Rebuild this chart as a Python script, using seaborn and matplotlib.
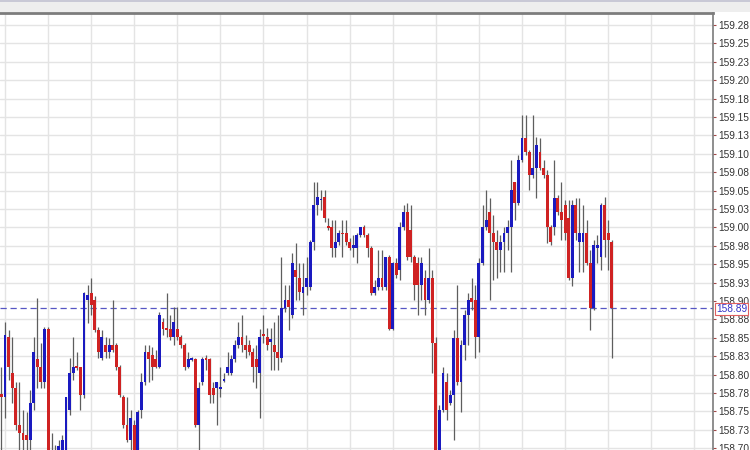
"""
Intraday candlestick chart (right-hand price scale) drawn on a seaborn theme.
Saves out.png at 750x450.
"""

import numpy as np
import pandas as pd
import seaborn as sns
from matplotlib import pyplot as plt
from matplotlib.patches import Rectangle

# Candle values, oldest first (the first one is cut by the left edge)
opens = [
    158.774, 158.770, 158.851, 158.802, 158.782, 158.731, 158.721, 158.718, 158.711, 158.761,
    158.821, 158.810, 158.790, 158.862, 158.670, 158.677, 158.695, 158.698, 158.698, 158.752,
    158.802, 158.812, 158.810, 158.772, 158.901, 158.911, 158.901, 158.861, 158.823, 158.840,
    158.831, 158.840, 158.840, 158.810, 158.770, 158.731, 158.711, 158.731, 158.684, 158.752,
    158.790, 158.831, 158.827, 158.821, 158.810, 158.871, 158.863, 158.862, 158.851, 158.862,
    158.851, 158.840, 158.810, 158.820, 158.821, 158.731, 158.790, 158.823, 158.821, 158.782,
    158.782, 158.780, 158.792, 158.802, 158.802, 158.821, 158.840, 158.851, 158.840, 158.840,
    158.831, 158.821, 158.802, 158.855, 158.851, 158.844, 158.840, 158.831, 158.823, 158.891,
    158.901, 158.881, 158.942, 158.931, 158.911, 158.919, 158.919, 158.980, 159.030, 159.037,
    159.041, 159.002, 159.001, 158.972, 158.980, 158.993, 158.992, 158.980, 158.972, 158.972,
    158.990, 159.001, 158.990, 158.972, 158.911, 158.919, 158.931, 158.919, 158.960, 158.862,
    158.952, 158.942, 159.001, 159.021, 158.996, 158.960, 158.952, 158.922, 158.931, 158.901,
    158.931, 158.843, 158.698, 158.752, 158.790, 158.761, 158.772, 158.850, 158.790, 158.840,
    158.881, 158.904, 158.901, 158.851, 158.952, 159.001, 159.021, 158.992, 158.980, 158.969,
    158.980, 158.992, 159.001, 159.062, 159.033, 159.092, 159.121, 159.102, 159.071, 159.081,
    159.102, 159.081, 159.071, 159.001, 159.001, 159.040, 159.021, 159.030, 159.013, 158.931,
    159.030, 158.980, 158.980, 158.992, 158.952, 158.891, 158.972, 158.960, 159.030, 158.992,
    158.980,
]
highs = [
    158.810, 158.871, 158.861, 158.851, 158.790, 158.790, 158.752, 158.749, 158.779, 158.851,
    158.904, 158.843, 158.865, 158.865, 158.721, 158.704, 158.711, 158.718, 158.770, 158.823,
    158.851, 158.831, 158.810, 158.912, 158.922, 158.931, 158.907, 158.865, 158.861, 158.851,
    158.850, 158.901, 158.843, 158.813, 158.772, 158.770, 158.752, 158.738, 158.752, 158.802,
    158.840, 158.840, 158.838, 158.833, 158.885, 158.877, 158.911, 158.881, 158.892, 158.892,
    158.854, 158.843, 158.831, 158.824, 158.823, 158.790, 158.824, 158.827, 158.823, 158.790,
    158.790, 158.810, 158.802, 158.831, 158.827, 158.847, 158.871, 158.881, 158.854, 158.847,
    158.836, 158.840, 158.862, 158.881, 158.863, 158.863, 158.871, 158.881, 158.960, 158.922,
    158.922, 158.965, 158.979, 158.952, 158.952, 158.960, 158.983, 159.062, 159.062, 159.051,
    159.051, 159.013, 159.010, 159.010, 158.996, 159.010, 159.010, 158.986, 158.990, 158.992,
    159.001, 159.003, 158.992, 158.975, 158.929, 158.969, 158.969, 158.960, 158.963, 158.953,
    158.958, 159.007, 159.030, 159.033, 159.030, 158.963, 158.960, 158.960, 158.942, 158.972,
    158.942, 158.851, 158.759, 158.810, 158.802, 158.779, 158.861, 158.922, 158.847, 158.888,
    158.911, 158.931, 158.922, 158.958, 159.030, 159.051, 159.040, 159.017, 158.996, 158.990,
    159.001, 159.010, 159.092, 159.062, 159.098, 159.153, 159.153, 159.105, 159.153, 159.123,
    159.121, 159.092, 159.078, 159.003, 159.092, 159.044, 159.062, 159.037, 159.037, 159.037,
    159.040, 159.040, 159.030, 159.010, 158.969, 158.983, 158.990, 159.033, 159.041, 159.010,
    158.983,
]
lows = [
    158.691, 158.741, 158.793, 158.761, 158.725, 158.698, 158.698, 158.691, 158.695, 158.752,
    158.782, 158.782, 158.782, 158.657, 158.657, 158.664, 158.684, 158.684, 158.691, 158.745,
    158.793, 158.806, 158.752, 158.768, 158.870, 158.881, 158.858, 158.823, 158.820, 158.823,
    158.823, 158.831, 158.806, 158.770, 158.727, 158.708, 158.698, 158.670, 158.677, 158.741,
    158.786, 158.790, 158.793, 158.809, 158.809, 158.854, 158.851, 158.847, 158.840, 158.847,
    158.836, 158.806, 158.809, 158.818, 158.729, 158.698, 158.786, 158.806, 158.761, 158.761,
    158.731, 158.770, 158.790, 158.799, 158.799, 158.817, 158.836, 158.831, 158.823, 158.827,
    158.790, 158.782, 158.741, 158.843, 158.833, 158.806, 158.806, 158.806, 158.817, 158.885,
    158.861, 158.877, 158.901, 158.901, 158.881, 158.908, 158.915, 158.969, 159.017, 159.024,
    159.007, 158.996, 158.960, 158.960, 158.976, 158.960, 158.976, 158.969, 158.960, 158.952,
    158.987, 158.987, 158.960, 158.908, 158.908, 158.915, 158.915, 158.915, 158.861, 158.861,
    158.931, 158.929, 158.996, 158.956, 158.953, 158.901, 158.881, 158.901, 158.881, 158.897,
    158.802, 158.684, 158.691, 158.749, 158.738, 158.759, 158.711, 158.786, 158.749, 158.820,
    158.840, 158.888, 158.823, 158.831, 158.949, 158.996, 158.901, 158.929, 158.931, 158.939,
    158.939, 158.969, 158.939, 159.010, 159.030, 159.089, 159.098, 159.051, 159.067, 159.040,
    159.078, 159.067, 158.979, 158.976, 158.990, 159.017, 158.983, 158.983, 158.929, 158.920,
    158.983, 158.939, 158.939, 158.949, 158.861, 158.888, 158.952, 158.942, 158.960, 158.942,
    158.823,
]
closes = [
    158.770, 158.854, 158.810, 158.782, 158.731, 158.721, 158.711, 158.711, 158.761, 158.831,
    158.810, 158.790, 158.862, 158.670, 158.684, 158.691, 158.703, 158.711, 158.770, 158.802,
    158.810, 158.809, 158.772, 158.911, 158.908, 158.895, 158.861, 158.831, 158.851, 158.831,
    158.840, 158.833, 158.810, 158.772, 158.731, 158.711, 158.741, 158.684, 158.749, 158.790,
    158.831, 158.821, 158.810, 158.810, 158.881, 158.862, 158.861, 158.851, 158.871, 158.851,
    158.840, 158.810, 158.821, 158.823, 158.731, 158.782, 158.821, 158.820, 158.772, 158.772,
    158.790, 158.783, 158.794, 158.810, 158.821, 158.840, 158.851, 158.840, 158.833, 158.831,
    158.810, 158.810, 158.851, 158.852, 158.840, 158.848, 158.831, 158.823, 158.891, 158.901,
    158.892, 158.952, 158.933, 158.912, 158.919, 158.931, 158.980, 159.030, 159.041, 159.039,
    159.013, 158.999, 158.972, 158.980, 158.992, 158.991, 158.980, 158.972, 158.976, 158.990,
    159.001, 158.990, 158.972, 158.911, 158.919, 158.931, 158.919, 158.960, 158.862, 158.952,
    158.935, 159.001, 159.021, 158.960, 158.960, 158.922, 158.922, 158.952, 158.901, 158.931,
    158.843, 158.691, 158.752, 158.802, 158.752, 158.772, 158.850, 158.790, 158.840, 158.881,
    158.901, 158.899, 158.851, 158.952, 159.001, 159.010, 158.992, 158.980, 158.969, 158.980,
    158.992, 159.001, 159.051, 159.033, 159.092, 159.121, 159.102, 159.071, 159.081, 159.112,
    159.081, 159.071, 159.001, 158.980, 159.040, 159.021, 159.010, 158.992, 158.931, 159.030,
    158.992, 158.992, 158.992, 158.952, 158.891, 158.976, 158.976, 159.030, 158.983, 158.983,
    158.891,
]

# Price scale on the right
price_ticks = [
    158.700, 158.725, 158.750, 158.775, 158.800, 158.825, 158.850, 158.875,
    158.900, 158.925, 158.950, 158.975, 159.000, 159.025, 159.050, 159.075,
    159.100, 159.125, 159.150, 159.175, 159.200, 159.225, 159.250, 159.275,
]
price_labels = [
    "158.70", "158.73", "158.75", "158.78", "158.80", "158.83", "158.85", "158.88",
    "158.90", "158.93", "158.95", "158.98", "159.00", "159.03", "159.05", "159.08",
    "159.10", "159.13", "159.15", "159.18", "159.20", "159.23", "159.25", "159.28",
]
last_price = 158.89
last_label = "158.89"

UP_COLOR = "#1a1ac0"
DOWN_COLOR = "#cf2222"
WICK_COLOR = "#5e5e5e"
FRAME_COLOR = "#7c7c7c"

df = pd.DataFrame({"open": opens, "high": highs, "low": lows, "close": closes})
df["t"] = np.arange(len(df)) - 1
df["up"] = df["close"] >= df["open"]
df["body_lo"] = df[["open", "close"]].min(axis=1)
df["body_h"] = (df["close"] - df["open"]).abs().clip(lower=0.0011)

sns.set_theme(style="white", rc={"axes.facecolor": "white", "figure.facecolor": "white"})
plt.rcParams["font.family"] = ["Liberation Sans", "DejaVu Sans"]

fig = plt.figure(figsize=(7.5, 4.5), dpi=100)
ax = fig.add_axes([0, 0, 713 / 750, 1 - 13 / 450])

# Wicks then bodies
ax.vlines(df["t"], df["low"], df["high"], color=WICK_COLOR, lw=0.9, zorder=2)
ax.bar(
    df["t"],
    df["body_h"],
    bottom=df["body_lo"],
    width=0.8,
    color=np.where(df["up"], UP_COLOR, DOWN_COLOR),
    linewidth=0,
    zorder=3,
)

# Last price line and its tag on the scale
ax.axhline(last_price, color="#5656c4", lw=0.9, ls=(0, (5, 3)), zorder=1)
ax.text(
    1.0045, last_price - 0.001, last_label,
    transform=ax.get_yaxis_transform(),
    ha="left", va="center", fontsize=7.3, color="#3434c8",
    bbox=dict(boxstyle="square,pad=0.08", fc="white", ec="#e06060", lw=0.8),
    clip_on=False, zorder=5,
)

ax.set_xlim(-1.39, 197.2)
ax.set_ylim(158.6976, 159.2913)

ax.set_xticks(range(0, 193, 12))
ax.set_yticks(price_ticks, price_labels)
ax.yaxis.tick_right()
ax.tick_params(axis="x", length=0, labelbottom=False)
ax.tick_params(
    axis="y", direction="out", length=2.5, width=0.8, color="#a04848",
    labelsize=7.3, labelcolor="#333333", pad=1,
)
ax.grid(True, color="#e4e4e4", lw=1.0, zorder=0)
ax.set_axisbelow(True)

for side in ("left", "bottom"):
    ax.spines[side].set_visible(False)
ax.spines["top"].set_color(FRAME_COLOR)
ax.spines["top"].set_linewidth(2.0)
ax.spines["right"].set_color(FRAME_COLOR)
ax.spines["right"].set_linewidth(1.2)

# Light toolbar strip above the chart
fig.add_artist(Rectangle((0, 1 - 12 / 450), 1, 12 / 450, transform=fig.transFigure,
                         fc="#eeeeee", ec="none", zorder=0))
fig.add_artist(Rectangle((0, 1 - 1.5 / 450), 1, 1.5 / 450, transform=fig.transFigure,
                         fc="#c9c9d6", ec="none", zorder=0))

fig.savefig("out.png", dpi=100)
